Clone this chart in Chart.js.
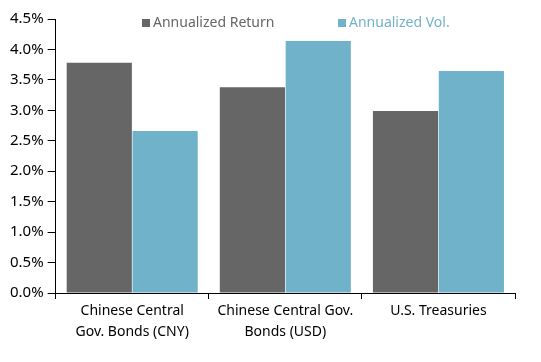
<!DOCTYPE html>
<html>
<head>
<meta charset="utf-8">
<script src="https://cdn.jsdelivr.net/npm/chart.js@4"></script>
<style>
  html, body { margin: 0; padding: 0; background: #fff; }
  #wrap { width: 541px; height: 362px; }
</style>
</head>
<body>
<div id="wrap"><canvas id="grafico"></canvas></div>
<script>
// dados do gráfico
const categorias = [
  ['Chinese Central', 'Gov. Bonds (CNY)'],
  ['Chinese Central Gov.', 'Bonds (USD)'],
  'U.S. Treasuries'
];
const retorno = [3.78, 3.38, 2.99];
const volatilidade = [2.66, 4.14, 3.645];
const nomesSeries = ['Annualized Return', 'Annualized Vol.'];
const coresSeries = ['#666666', '#71b2cb'];

Chart.defaults.font.family = "'Noto Sans', sans-serif";
Chart.defaults.color = '#000';

// legenda desenhada por cima da área do gráfico (como no original)
const legendaTopo = {
  id: 'legendaTopo',
  afterDraw(chart) {
    const c = chart.ctx;
    const posX = [142, 338];
    const y = chart.chartArea.top + 4;
    c.save();
    c.font = "14px 'Noto Sans', sans-serif";
    c.textBaseline = 'middle';
    chart.data.datasets.forEach((ds, i) => {
      c.fillStyle = ds.backgroundColor;
      c.fillRect(posX[i], y - 4, 8, 8);
      c.fillText(ds.label, posX[i] + 11, y);
    });
    c.restore();
  }
};

const ctx = document.getElementById('grafico').getContext('2d');

new Chart(ctx, {
  type: 'bar',
  data: {
    labels: categorias,
    datasets: [
      { label: nomesSeries[0], data: retorno, backgroundColor: coresSeries[0] },
      { label: nomesSeries[1], data: volatilidade, backgroundColor: coresSeries[1] }
    ]
  },
  options: {
    responsive: true,
    maintainAspectRatio: false,
    animation: false,
    layout: { padding: { top: 19, right: 26, left: 6, bottom: 17 } },
    datasets: {
      bar: { categoryPercentage: 0.86, barPercentage: 0.99 }
    },
    plugins: {
      tooltip: { enabled: false },
      legend: { display: false }
    },
    scales: {
      x: {
        grid: {
          offset: true,
          drawOnChartArea: false,
          drawTicks: true,
          tickLength: 6,
          color: '#000'
        },
        border: { display: true, color: '#000', width: 1 },
        ticks: {
          color: '#000',
          font: { size: 14, lineHeight: 1.5 },
          maxRotation: 0,
          autoSkip: false,
          padding: 2
        }
      },
      y: {
        min: 0,
        max: 4.5,
        ticks: {
          stepSize: 0.5,
          color: '#000',
          font: { size: 15 },
          padding: 4,
          callback: v => v.toFixed(1) + '%'
        },
        grid: {
          drawOnChartArea: false,
          drawTicks: true,
          tickLength: 8,
          color: '#000'
        },
        border: { display: true, color: '#000', width: 1 }
      }
    }
  },
  plugins: [legendaTopo]
});
</script>
</body>
</html>
